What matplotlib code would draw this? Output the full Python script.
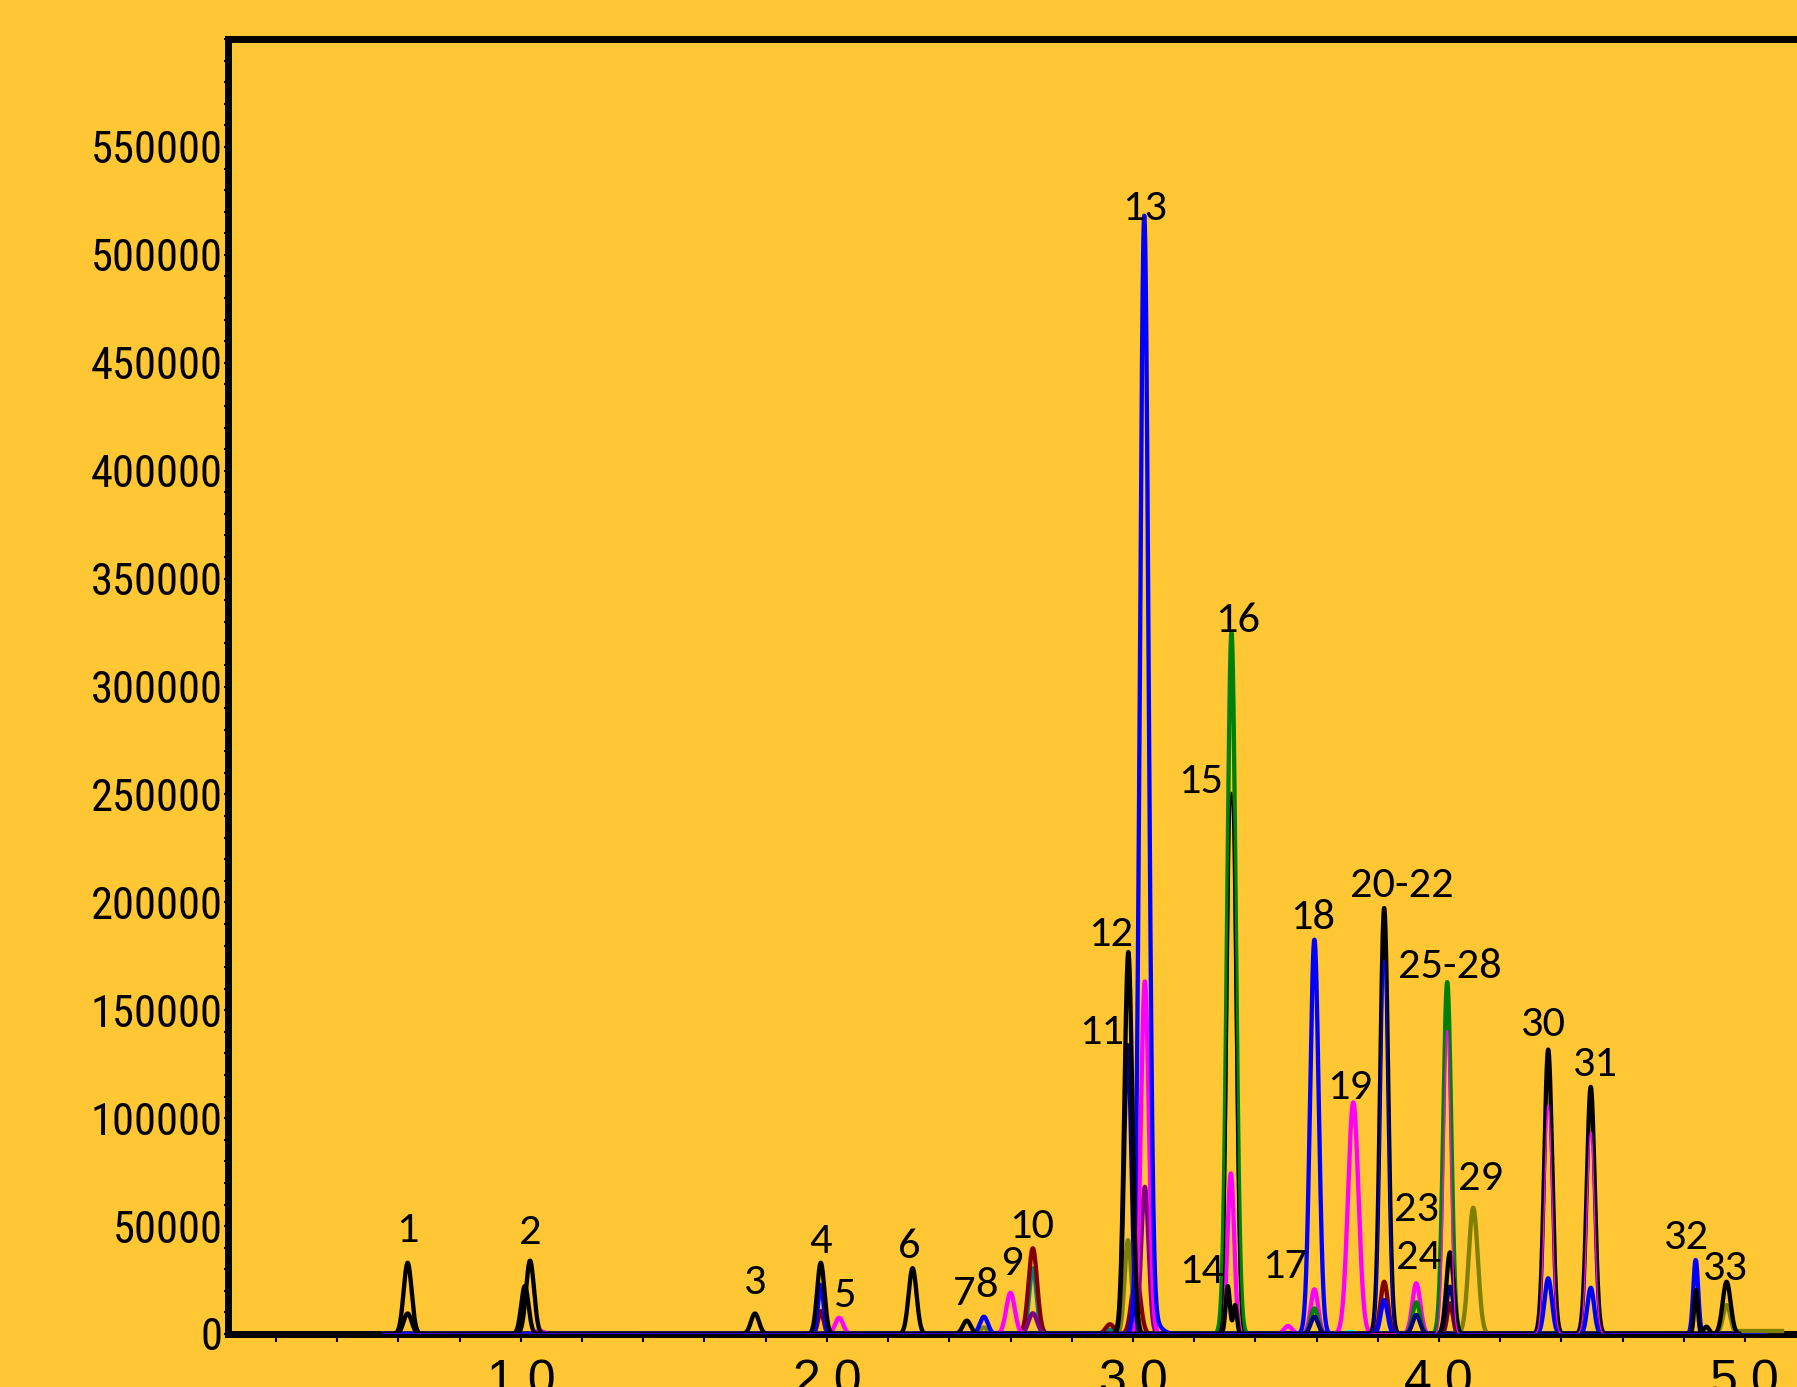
import numpy as np
import matplotlib.pyplot as plt

# retention time (min), peak height and peak width (sigma, min) for each detector trace
blackRt = [0.63, 1.03, 1.765, 1.98, 2.28, 2.457, 2.985, 3.31, 3.334, 3.821, 4.036, 4.357, 4.496, 4.874, 4.94]
blackH = [33000, 34000, 9500, 33000, 30500, 6200, 177000, 22200, 13400, 197400, 37800, 131800, 114500, 3400, 24200]
blackW = [0.013, 0.013, 0.013, 0.012, 0.013, 0.013, 0.013, 0.007, 0.006, 0.013, 0.012, 0.013, 0.013, 0.009, 0.013]

black2Rt = [0.63, 1.013, 4.84]
black2H = [9500, 22200, 20400]
black2W = [0.013, 0.012, 0.006]

blackThinRt = [3.322]
blackThinH = [251000]
blackThinW = [0.012]

navyRt = [2.983, 3.593, 3.926, 4.036]
navyH = [133800, 8000, 8800, 21900]
navyW = [0.012, 0.012, 0.012, 0.012]

blueRt = [1.98, 2.513, 3.037, 3.062, 3.593, 3.821, 4.357, 4.496, 4.839]
blueH = [22700, 8000, 514500, 6000, 182700, 15700, 25800, 21400, 34300]
blueW = [0.009, 0.013, 0.014, 0.025, 0.014, 0.011, 0.012, 0.011, 0.008]

blueThinRt = [3.821]
blueThinH = [173000]
blueThinW = [0.012]

magentaRt = [1.06, 2.04, 2.60, 3.039, 3.32, 3.507, 3.593, 3.72, 3.926]
magentaH = [1500, 7500, 19100, 163400, 74400, 3700, 20700, 107300, 23500]
magentaW = [0.014, 0.013, 0.014, 0.013, 0.011, 0.013, 0.012, 0.017, 0.013]

magentaThinRt = [4.027, 4.357, 4.496]
magentaThinH = [140700, 106000, 93700]
magentaThinW = [0.011, 0.012, 0.012]

maroonRt = [1.98, 2.673, 2.925, 3.01, 3.821, 4.036]
maroonH = [10600, 39700, 4500, 28000, 24200, 14200]
maroonW = [0.009, 0.014, 0.014, 0.014, 0.012, 0.009]

tealRt = [2.673, 2.925]
tealH = [30400, 2000]
tealW = [0.012, 0.014]

purpleRt = [2.673, 3.039]
purpleH = [9600, 68200]
purpleW = [0.014, 0.012]

oliveRt = [2.513, 2.984, 4.112, 4.94]
oliveH = [3000, 43500, 58500, 13400]
oliveW = [0.012, 0.011, 0.015, 0.012]

greenRt = [3.322, 3.593, 3.926, 4.027]
greenH = [325000, 11900, 14700, 163100]
greenW = [0.014, 0.012, 0.012, 0.013]

cyanRt = [3.71]
cyanH = [1000]
cyanW = [0.012]

# late baseline drift of two traces: start, end, level
blueTail = [4.50, 5.07, -600]
oliveTail = [4.97, 5.12, 1500]

peakLabels = ["1", "2", "3", "4", "5", "6", "7", "8", "9", "10", "11", "12", "13", "14",
              "15", "16", "17", "18", "19", "20-22", "23", "24", "25-28", "29", "30", "31", "32", "33"]
labelRt = [0.63, 1.03, 1.766, 1.98, 2.06, 2.268, 2.448, 2.52, 2.603, 2.669, 2.898, 2.928, 3.039, 3.225,
           3.222, 3.342, 3.497, 3.587, 3.707, 3.878, 3.926, 3.934, 4.036, 4.137, 4.341, 4.513, 4.809, 4.937]
labelY = [42700, 41500, 18500, 37600, 12600, 35000, 13400, 17300, 27300, 44300, 134300, 179600, 516000, 23500,
          250500, 325200, 25800, 187500, 109100, 202500, 52300, 30100, 165000, 66700, 138100, 119600, 39400, 25000]

yTicks = list(range(0, 550001, 50000))
xTicks = [1.0, 2.0, 3.0, 4.0, 5.0]


def Chromatogram(rt, height, width, t):
    signal = np.zeros_like(t)
    for r, h, w in zip(rt, height, width):
        signal += h * np.exp(-0.5 * ((t - r) / w) ** 2)
    return signal


bg = '#FFC733'
fig = plt.figure(figsize=(17.97, 13.87), dpi=100, facecolor=bg)
ax = fig.add_axes([228 / 1797, 1 - 1334 / 1387, 1 - 228 / 1797, (1334 - 39) / 1387])
ax.set_facecolor(bg)

t = np.linspace(0.55, 4.98, 6000)
thick = 3.1
thin = 1.0

traces = [
    (cyanRt, cyanH, cyanW, '#00FFFF', thick),
    (tealRt, tealH, tealW, '#008080', thick),
    (maroonRt, maroonH, maroonW, '#800000', thick),
    (oliveRt, oliveH, oliveW, '#808000', thick),
    (purpleRt, purpleH, purpleW, '#800080', thick),
    (magentaRt, magentaH, magentaW, '#FF00FF', thick),
    (greenRt, greenH, greenW, '#008000', thick),
    (navyRt, navyH, navyW, '#000080', thick),
    (blueRt, blueH, blueW, '#0000FF', thick),
    (black2Rt, black2H, black2W, 'black', thick),
    (blackRt, blackH, blackW, 'black', thick),
    (blackThinRt, blackThinH, blackThinW, 'black', thin),
    (magentaThinRt, magentaThinH, magentaThinW, '#FF00FF', thin),
    (blueThinRt, blueThinH, blueThinW, '#0000FF', thin),
]
for z, (rt, h, w, col, lw) in enumerate(traces):
    ax.plot(t, Chromatogram(rt, h, w, t), color=col, lw=lw, zorder=3 + z * 0.01)

ax.plot([blueTail[0], blueTail[1]], [blueTail[2], blueTail[2]], color='#0000FF', lw=thick, zorder=2.9)
ax.plot([oliveTail[0], oliveTail[1]], [oliveTail[2], oliveTail[2]], color='#808000', lw=thick, zorder=2.9)

for lab, x, y in zip(peakLabels, labelRt, labelY):
    ax.text(x, y, lab, ha='center', va='baseline', fontsize=32,
            family=['Carlito', 'Lato', 'DejaVu Sans'], color='black', zorder=5)

ax.set_xlim(0.043, 5.17)
ax.set_ylim(0, 600000)

for side in ['left', 'top', 'bottom']:
    ax.spines[side].set_linewidth(5)
    ax.spines[side].set_zorder(2)
ax.spines['right'].set_visible(False)

ax.set_yticks(yTicks)
ax.set_yticklabels([str(v) for v in yTicks])
ax.set_yticks(np.arange(0, 600001, 10000), minor=True)
ax.set_xticks(xTicks)
ax.set_xticklabels(["%.1f" % v for v in xTicks])
ax.set_xticks(np.arange(0.2, 5.17, 0.2), minor=True)

ax.tick_params(axis='y', which='both', direction='out', length=3, width=1.5, pad=1)
ax.tick_params(axis='x', which='both', direction='out', length=6, width=1.5, pad=12)
for lab in ax.get_yticklabels():
    lab.set_family(['Roboto Condensed', 'PT Sans Narrow', 'DejaVu Sans'])
    lab.set_fontsize(32)
for lab in ax.get_xticklabels():
    lab.set_family(['Liberation Sans', 'DejaVu Sans'])
    lab.set_fontsize(36)

plt.savefig('out.png', dpi=100, facecolor=bg)
